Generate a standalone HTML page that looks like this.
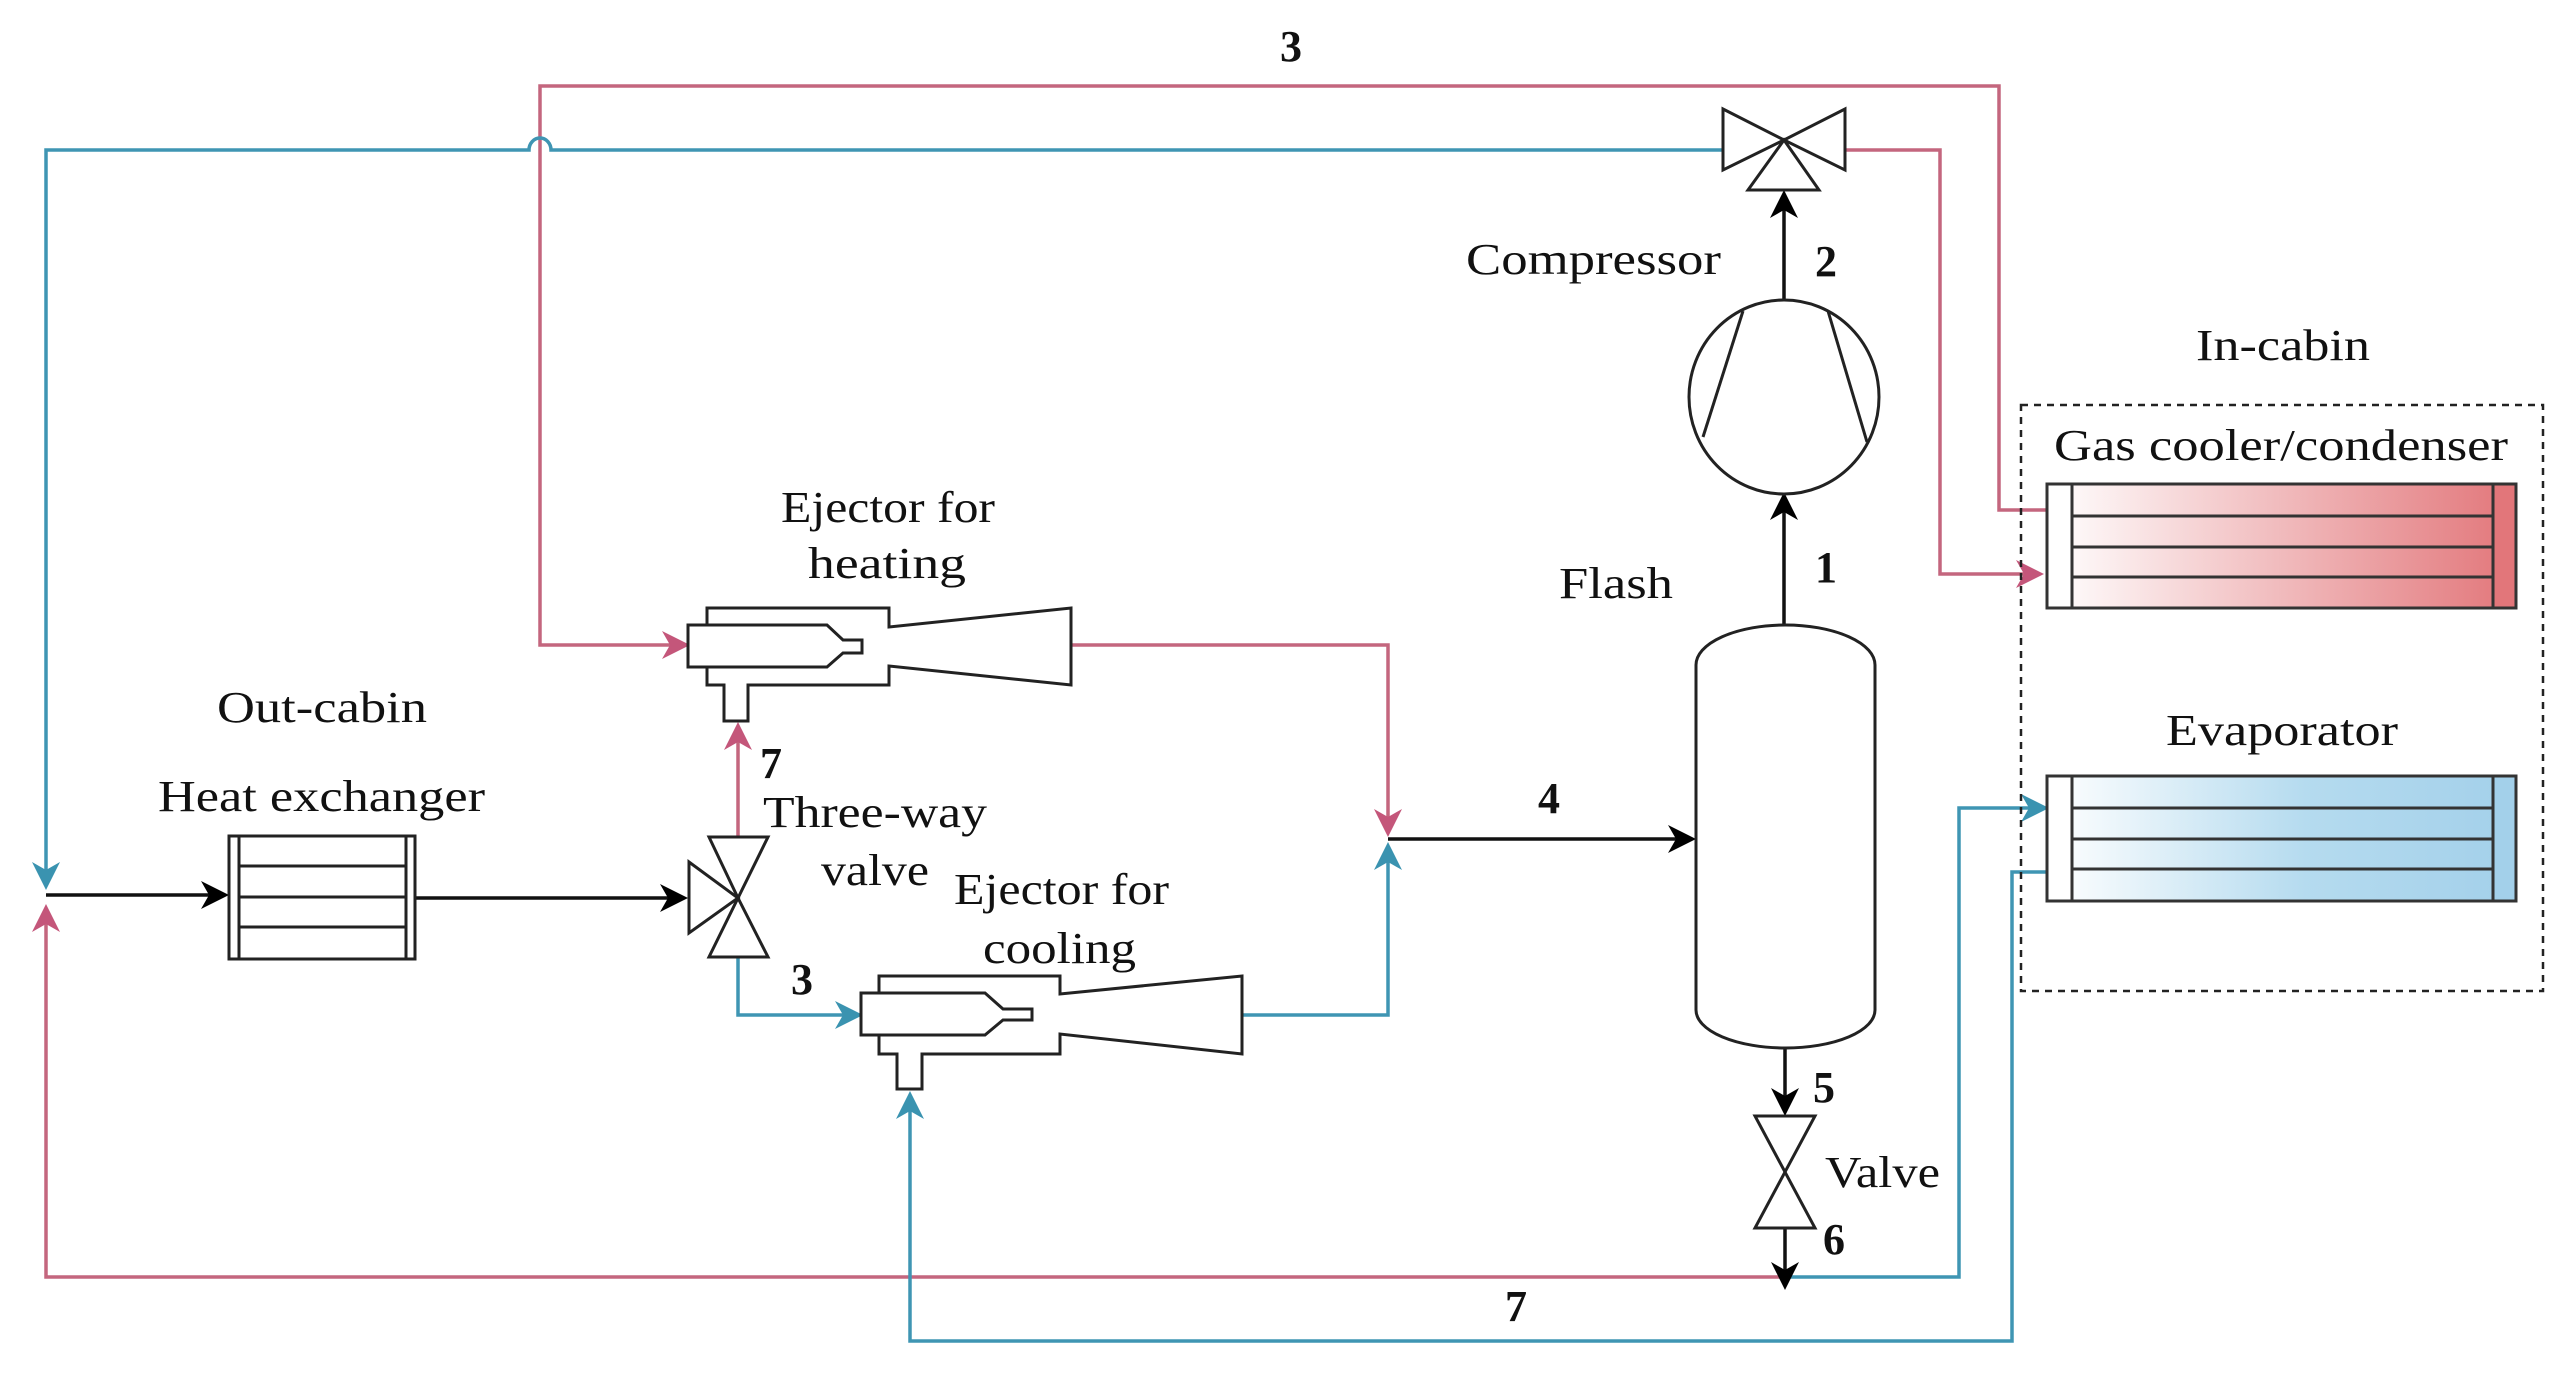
<!DOCTYPE html>
<html><head><meta charset="utf-8"><style>html,body{margin:0;padding:0;background:#fff}svg{display:block}</style></head><body>
<svg width="2571" height="1375" viewBox="0 0 2571 1375" xmlns="http://www.w3.org/2000/svg" font-family="Liberation Serif, serif">
<defs>
<linearGradient id="gr" x1="0" x2="1" y1="0" y2="0"><stop offset="0" stop-color="#fff"/><stop offset="1" stop-color="#e2767a"/></linearGradient>
<linearGradient id="gb" x1="0" x2="1" y1="0" y2="0"><stop offset="0" stop-color="#fff"/><stop offset="0.55" stop-color="#b5dbef"/><stop offset="1" stop-color="#a3d0ea"/></linearGradient>
</defs>
<g fill="none" stroke-width="3.5">
<!-- red lines -->
<g stroke="#c4667e">
<polyline points="675,645 540,645 540,86 1999,86 1999,510 2047,510"/>
<polyline points="1845,150 1940,150 1940,574 2030,574"/>
<polyline points="1070,645 1388,645 1388,825"/>
<line x1="738" y1="837" x2="738" y2="735"/>
<polyline points="1785,1277 46,1277 46,915"/>
</g>
<!-- blue lines -->
<g stroke="#3f95b3">
<path d="M1723,150 L551,150 A 11 12 0 0 0 529 150 L 46 150 L 46 878"/>
<polyline points="738,957 738,1015 850,1015"/>
<polyline points="1242,1015 1388,1015 1388,855"/>
<polyline points="1785,1277 1959,1277 1959,808 2035,808"/>
<polyline points="2047,872 2012,872 2012,1341 910,1341 910,1104"/>
</g>
<!-- black lines -->
<g stroke="#111">
<line x1="1784" y1="301" x2="1784" y2="200"/>
<line x1="1784" y1="625" x2="1784" y2="502"/>
<line x1="46" y1="895" x2="218" y2="895"/>
<line x1="415" y1="898" x2="677" y2="898"/>
<line x1="1388" y1="839" x2="1685" y2="839"/>
<line x1="1785" y1="1048" x2="1785" y2="1105"/>
<line x1="1785" y1="1228" x2="1785" y2="1279"/>
</g>
</g>
<!-- arrowheads -->
<g fill="#c4567a">
<polygon points="690,645 662,631 670,645 662,659"/>
<polygon points="2044,574 2016,560 2024,574 2016,588"/>
<polygon points="46,904 32,932 46,924 60,932"/>
<polygon points="738,722 724,750 738,742 752,750"/>
<polygon points="1388,837 1374,809 1388,817 1402,809"/>
</g>
<g fill="#3a93b0">
<polygon points="46,890 32,862 46,870 60,862"/>
<polygon points="863,1015 835,1001 843,1015 835,1029"/>
<polygon points="910,1091 896,1119 910,1111 924,1119"/>
<polygon points="1388,842 1374,870 1388,862 1402,870"/>
<polygon points="2049,808 2021,794 2029,808 2021,822"/>
</g>
<g fill="#000">
<polygon points="1784,190 1770,218 1784,210 1798,218"/>
<polygon points="1784,492 1770,520 1784,512 1798,520"/>
<polygon points="229,895 201,881 209,895 201,909"/>
<polygon points="688,898 660,884 668,898 660,912"/>
<polygon points="1696,839 1668,825 1676,839 1668,853"/>
<polygon points="1785,1116 1771,1088 1785,1096 1799,1088"/>
<polygon points="1785,1290 1771,1262 1785,1270 1799,1262"/>
</g>
<!-- components -->
<g fill="none" stroke="#222" stroke-width="3">
<polygon points="1723,109 1784,140 1723,170" fill="#fff"/>
<polygon points="1845,109 1784,140 1845,170" fill="#fff"/>
<polygon points="1784,140 1748,190 1819,190" fill="#fff"/>
<ellipse cx="1784" cy="397" rx="95" ry="97" fill="#fff"/>
<line x1="1743" y1="311" x2="1703" y2="437"/>
<line x1="1828" y1="311" x2="1867" y2="442"/>
<path d="M1696,665 A 89.5 40 0 0 1 1875,665 L1875,1010 A 89.5 38 0 0 1 1696,1010 Z" fill="#fff"/>
<polygon points="1755,1116 1815,1116 1785,1172" fill="#fff"/>
<polygon points="1755,1228 1815,1228 1785,1172" fill="#fff"/>
<polygon points="689,862 738,898 689,933" fill="#fff"/>
<polygon points="709,837 768,837 738,898" fill="#fff"/>
<polygon points="709,957 768,957 738,898" fill="#fff"/>
<rect x="229" y="836" width="186" height="123" fill="#fff"/>
<line x1="239" y1="836" x2="239" y2="959"/><line x1="406" y1="836" x2="406" y2="959"/>
<line x1="239" y1="866" x2="406" y2="866"/><line x1="239" y1="897" x2="406" y2="897"/><line x1="239" y1="927" x2="406" y2="927"/>
<path d="M707,625 L707,608 L889,608 L889,627 L1071,608 L1071,685 L889,666 L889,685 L748,685 L748,721 L724,721 L724,685 L707,685 L707,667" fill="#fff"/>
<path d="M688,625 L827,625 L843,640 L862,640 L862,653 L843,653 L827,667 L688,667 Z" fill="#fff"/>
<path d="M879,993 L879,976 L1060,976 L1060,994 L1242,976 L1242,1054 L1060,1034 L1060,1054 L922,1054 L922,1089 L897,1089 L897,1054 L879,1054 L879,1035" fill="#fff"/>
<path d="M861,993 L985,993 L1003,1009 L1032,1009 L1032,1020 L1003,1020 L985,1035 L861,1035 Z" fill="#fff"/>
</g>
<g stroke="#333" stroke-width="3">
<rect x="2047" y="484" width="469" height="124" fill="url(#gr)"/>
<rect x="2047" y="484" width="25" height="124" fill="#fff"/>
<rect x="2493" y="484" width="23" height="124" fill="#e2767a"/>
<line x1="2072" y1="516" x2="2493" y2="516"/><line x1="2072" y1="547" x2="2493" y2="547"/><line x1="2072" y1="577" x2="2493" y2="577"/>
<rect x="2047" y="776" width="469" height="125" fill="url(#gb)"/>
<rect x="2047" y="776" width="25" height="125" fill="#fff"/>
<rect x="2493" y="776" width="23" height="125" fill="#a3d0ea"/>
<line x1="2072" y1="808" x2="2493" y2="808"/><line x1="2072" y1="839" x2="2493" y2="839"/><line x1="2072" y1="869" x2="2493" y2="869"/>
</g>
<rect x="2021" y="405" width="522" height="586" fill="none" stroke="#222" stroke-width="2.5" stroke-dasharray="7,6"/>
<g font-size="44" fill="#111">
<text x="1466" y="274" textLength="255" lengthAdjust="spacingAndGlyphs">Compressor</text>
<text x="1559" y="598" textLength="114" lengthAdjust="spacingAndGlyphs">Flash</text>
<text x="2196" y="360" textLength="174" lengthAdjust="spacingAndGlyphs">In-cabin</text>
<text x="2054" y="460" textLength="454" lengthAdjust="spacingAndGlyphs">Gas cooler/condenser</text>
<text x="2166" y="745" textLength="232" lengthAdjust="spacingAndGlyphs">Evaporator</text>
<text x="1825" y="1187" textLength="115" lengthAdjust="spacingAndGlyphs">Valve</text>
<text x="781" y="522" textLength="214" lengthAdjust="spacingAndGlyphs">Ejector for</text>
<text x="808" y="578" textLength="158" lengthAdjust="spacingAndGlyphs">heating</text>
<text x="217" y="722" textLength="210" lengthAdjust="spacingAndGlyphs">Out-cabin</text>
<text x="158" y="811" textLength="327" lengthAdjust="spacingAndGlyphs">Heat exchanger</text>
<text x="763" y="827" textLength="224" lengthAdjust="spacingAndGlyphs">Three-way</text>
<text x="821" y="885" textLength="108" lengthAdjust="spacingAndGlyphs">valve</text>
<text x="954" y="904" textLength="215" lengthAdjust="spacingAndGlyphs">Ejector for</text>
<text x="983" y="963" textLength="153" lengthAdjust="spacingAndGlyphs">cooling</text>
</g>
<g font-size="44" font-weight="bold" fill="#111">
<text x="1280" y="61">3</text>
<text x="1815" y="276">2</text>
<text x="1815" y="582">1</text>
<text x="1538" y="813">4</text>
<text x="1813" y="1102">5</text>
<text x="1823" y="1254">6</text>
<text x="1505" y="1321">7</text>
<text x="760" y="778">7</text>
<text x="791" y="994">3</text>
</g>
</svg>
</body></html>
